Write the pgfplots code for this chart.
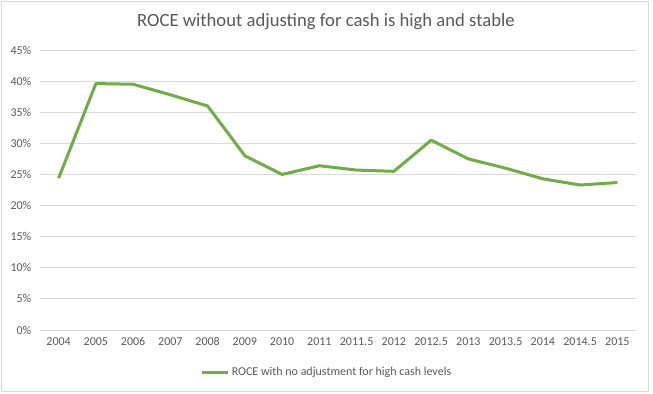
\documentclass[border=0pt]{standalone}
\usepackage{pgfplots}
\pgfplotsset{compat=1.18}
\usepackage{fontspec}
\setmainfont{Carlito}
\definecolor{linegreen}{HTML}{70AD47}
\definecolor{gridgray}{HTML}{D9D9D9}
\definecolor{textgray}{HTML}{595959}
\begin{document}
\begin{tikzpicture}
\useasboundingbox (0pt,0pt) rectangle (489.75pt,294.75pt);
\draw[gridgray, line width=0.75pt] (1.2pt,1.5pt) rectangle (486pt,293.25pt);
\node[font=\fontsize{14}{17}\selectfont, text=textgray] at (244.5pt,278.25pt) {ROCE without adjusting for cash is high and stable};
\begin{axis}[
  at={(30pt,47.25pt)}, anchor=south west,
  scale only axis, width=447pt, height=210pt,
  xmin=-0.5, xmax=15.5, ymin=0, ymax=45,
  xtick={0,...,15},
  xticklabels={2004,2005,2006,2007,2008,2009,2010,2011,2011.5,2012,2012.5,2013,2013.5,2014,2014.5,2015},
  ytick={0,5,...,45},
  yticklabel={\pgfmathprintnumber{\tick}\%},
  /pgf/number format/assume math mode=true,
  tick style={draw=none},
  axis line style={draw=none},
  ymajorgrids, grid style={gridgray, line width=0.75pt},
  ticklabel style={font=\fontsize{9}{11}\selectfont, text=textgray},
  xticklabel style={yshift=-2pt},
  yticklabel style={xshift=-3pt},
  legend style={draw=none, fill=none, font=\fontsize{9}{11}\selectfont, text=textgray,
    at={(rel axis cs:0.5,0)}, anchor=center, yshift=-31.5pt, xshift=-8pt},
  legend image code/.code={\draw[#1, line width=2.25pt] (0pt,0pt) -- (19pt,0pt);},
]
\addplot[linegreen, line width=2.25pt, line join=round] coordinates {
(0,24.4) (1,39.6) (2,39.5) (3,37.8) (4,36.0) (5,28.0) (6,25.0) (7,26.4)
(8,25.7) (9,25.5) (10,30.5) (11,27.5) (12,26.0) (13,24.3) (14,23.3) (15,23.7)
};
\addlegendentry{ROCE with no adjustment for high cash levels}
\end{axis}
\end{tikzpicture}
\end{document}
